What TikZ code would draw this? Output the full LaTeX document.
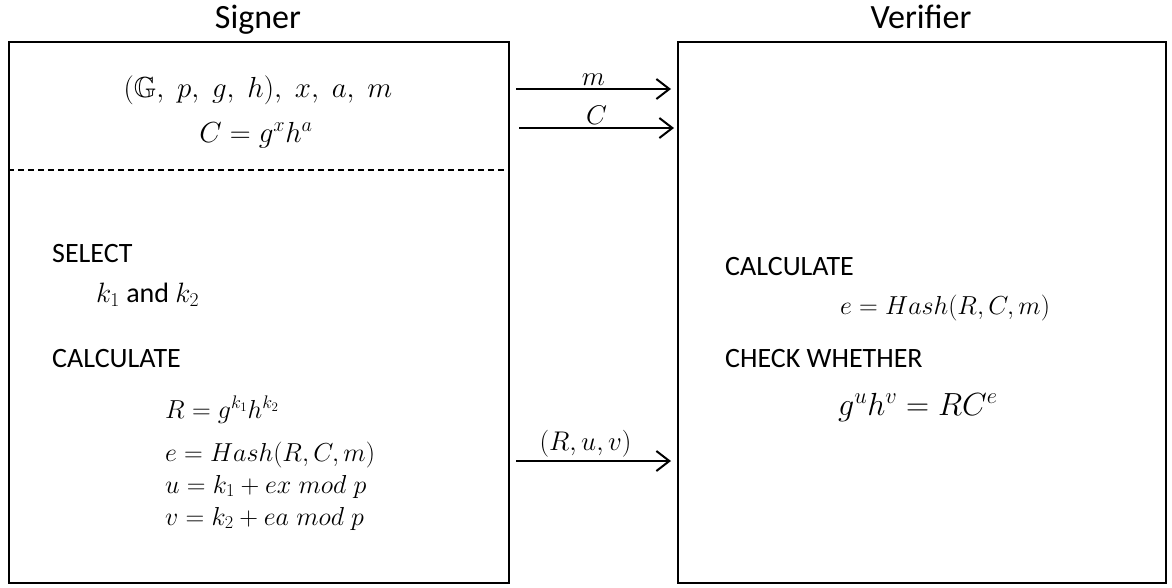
\documentclass[tikz,border=0pt]{standalone}
\usepackage{fix-cm}
\usepackage{amsmath, amssymb}
\usepackage{fontspec}
\setmainfont{Carlito}
\usetikzlibrary{arrows.meta, positioning}

\begin{document}
\begin{tikzpicture}[x=1pt, y=-1pt,
            party/.style={rectangle, draw, line width=1.5pt, anchor=north west,
                          minimum height=541pt, inner sep=0pt},
            title/.style={anchor=base, inner sep=0pt, font=\fontsize{34}{40}\selectfont},
            keyword/.style={anchor=base west, inner sep=0pt, font=\fontsize{28}{33}\selectfont},
            formula/.style={anchor=base west, inner sep=0pt, font=\fontsize{26}{31}\selectfont},
            msg/.style={above=3pt, inner sep=0pt, font=\fontsize{27}{32}\selectfont},
            edge/.style={-{Straight Barb[length=13pt, width=20pt, line width=2pt]}, line width=2pt}
        ]
            \useasboundingbox (0,0) rectangle (1172,587);

            \node[title] (signer-title) at (258,28) {Signer};
            \node[title] (verifier-title) at (921,28) {Verifier};

            \node[party, minimum width=500pt] (signer) at (8,41) {};
            \node[party, minimum width=488pt] (verifier) at (677,41) {};

            \draw[line width=1.2pt, dash pattern=on 6pt off 4pt]
                (signer.west |- 0,170) -- (signer.east |- 0,170);

            % signer side
            \node[formula, anchor=base, font=\fontsize{29}{34}\selectfont] (setup) at (258,97)
                {$(\mathbb{G},\;p,\;g,\;h),\;x,\;a,\;m$};
            \node[formula, anchor=base, font=\fontsize{29}{34}\selectfont] (commit) at (256,142) {$C=g^xh^a$};

            \node[keyword] (select) at (52,262) {SELECT};
            \node[keyword] (nonces) at (96,302) {$k_1$ and $k_2$};
            \node[keyword] (calc-signer) at (52,367) {CALCULATE};
            \node[formula] (r-eq) at (165,418) {$R=g^{k_1}h^{k_2}$};
            \node[formula] (e-eq) at (165,461) {$e=Hash(R,C,m)$};
            \node[formula] (u-eq) at (165,493) {$u=k_1+ex\;mod\;p$};
            \node[formula] (v-eq) at (165,525) {$v=k_2+ea\;mod\;p$};

            % verifier side
            \node[keyword] (calc-verifier) at (725,275) {CALCULATE};
            \node[formula] (hash-eq) at (840,314) {$e=Hash(R,C,m)$};
            \node[keyword] (check) at (725,367) {CHECK WHETHER};
            \node[formula, font=\fontsize{32}{38}\selectfont] (check-eq) at (838,415) {$g^uh^v=RC^e$};

            % messages
            \coordinate (m-from) at (516,89);
            \coordinate (m-to) at (671,89);
            \coordinate (c-from) at (519,128);
            \coordinate (c-to) at (674,128);
            \coordinate (ruv-from) at (516,461);
            \coordinate (ruv-to) at (671,461);

            \draw[edge] (m-from) -- node[msg] (m-msg) {$m$} (m-to);
            \draw[edge] (c-from) -- node[msg] (c-msg) {$C$} (c-to);
            \draw[edge] (ruv-from) -- node[msg, xshift=-8pt] (ruv-msg) {$(R,u,v)$} (ruv-to);
        \end{tikzpicture}
\end{document}
